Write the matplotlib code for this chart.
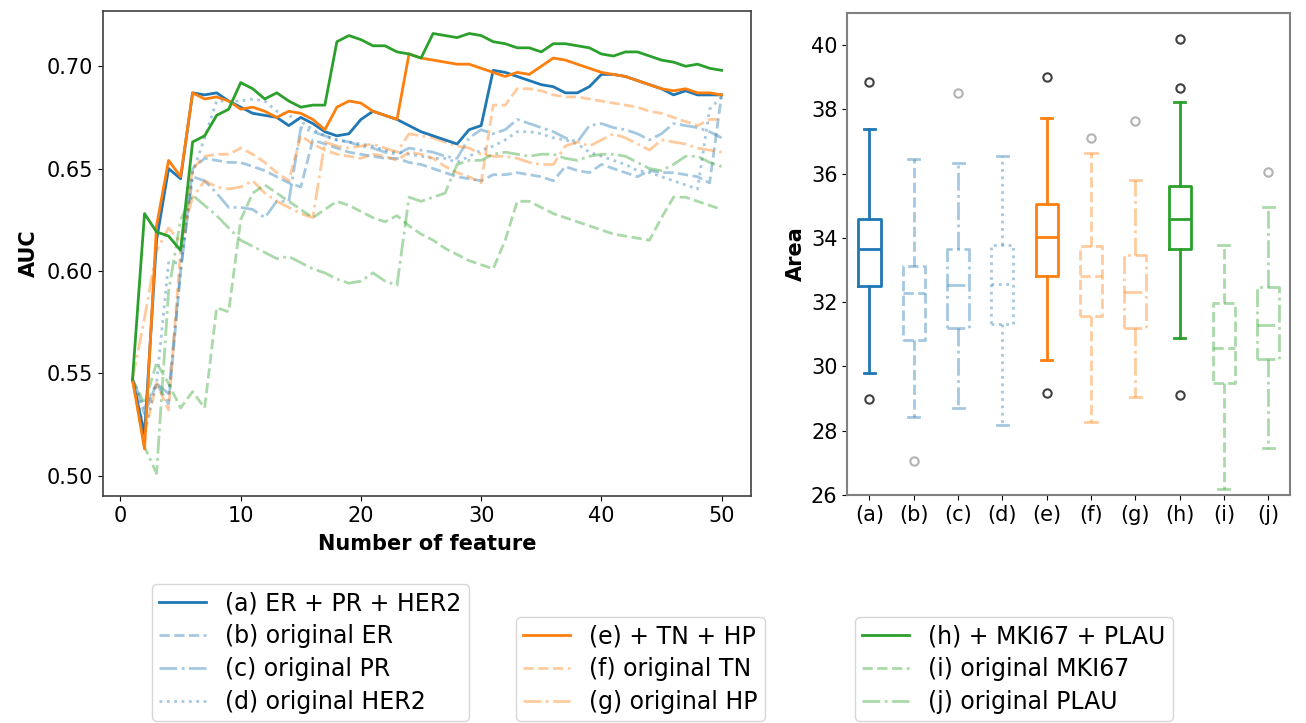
import matplotlib

matplotlib.use("Agg")
import matplotlib.pyplot as plt
from matplotlib.lines import Line2D

# AUC vs number of features (n = 1..50)
n_feature = list(range(1, 51))
auc_a = [0.547, 0.520, 0.615, 0.650, 0.645, 0.687, 0.686, 0.687, 0.683, 0.680,
         0.677, 0.676, 0.675, 0.671, 0.675, 0.672, 0.668, 0.666, 0.667, 0.674,
         0.678, 0.676, 0.674, 0.671, 0.668, 0.666, 0.664, 0.662, 0.669, 0.671,
         0.698, 0.697, 0.695, 0.693, 0.691, 0.690, 0.687, 0.687, 0.690, 0.696,
         0.696, 0.695, 0.693, 0.691, 0.689, 0.686, 0.688, 0.686, 0.686, 0.686]
auc_b = [0.547, 0.530, 0.545, 0.535, 0.600, 0.650, 0.655, 0.654, 0.653, 0.653,
         0.651, 0.649, 0.646, 0.643, 0.641, 0.664, 0.662, 0.660, 0.658, 0.657,
         0.656, 0.655, 0.655, 0.653, 0.652, 0.650, 0.648, 0.646, 0.645, 0.644,
         0.647, 0.647, 0.648, 0.647, 0.646, 0.644, 0.651, 0.649, 0.648, 0.652,
         0.650, 0.648, 0.646, 0.649, 0.648, 0.648, 0.647, 0.646, 0.643, 0.686]
auc_c = [0.547, 0.533, 0.545, 0.540, 0.600, 0.646, 0.644, 0.638, 0.631, 0.631,
         0.630, 0.626, 0.634, 0.634, 0.670, 0.668, 0.666, 0.664, 0.663, 0.661,
         0.660, 0.658, 0.657, 0.660, 0.659, 0.658, 0.656, 0.655, 0.665, 0.669,
         0.667, 0.669, 0.674, 0.672, 0.670, 0.668, 0.665, 0.663, 0.671, 0.672,
         0.670, 0.669, 0.667, 0.664, 0.667, 0.672, 0.671, 0.670, 0.668, 0.665]
auc_d = [0.547, 0.522, 0.545, 0.604, 0.604, 0.648, 0.665, 0.683, 0.683, 0.683,
         0.684, 0.683, 0.678, 0.676, 0.673, 0.669, 0.666, 0.664, 0.663, 0.662,
         0.661, 0.659, 0.658, 0.657, 0.656, 0.655, 0.655, 0.653, 0.656, 0.659,
         0.661, 0.664, 0.668, 0.668, 0.667, 0.665, 0.664, 0.662, 0.658, 0.656,
         0.654, 0.652, 0.649, 0.648, 0.646, 0.644, 0.642, 0.640, 0.679, 0.685]
auc_e = [0.547, 0.513, 0.622, 0.654, 0.646, 0.687, 0.684, 0.685, 0.683, 0.679,
         0.680, 0.678, 0.675, 0.678, 0.677, 0.674, 0.669, 0.680, 0.683, 0.682,
         0.678, 0.676, 0.674, 0.706, 0.704, 0.703, 0.702, 0.701, 0.701, 0.699,
         0.697, 0.695, 0.697, 0.696, 0.700, 0.704, 0.703, 0.701, 0.699, 0.697,
         0.696, 0.695, 0.693, 0.691, 0.689, 0.688, 0.689, 0.687, 0.687, 0.686]
auc_f = [0.547, 0.520, 0.545, 0.532, 0.610, 0.650, 0.656, 0.657, 0.657, 0.660,
         0.657, 0.653, 0.648, 0.644, 0.666, 0.662, 0.659, 0.657, 0.656, 0.655,
         0.657, 0.656, 0.654, 0.658, 0.657, 0.655, 0.651, 0.648, 0.646, 0.643,
         0.681, 0.681, 0.689, 0.689, 0.688, 0.686, 0.685, 0.685, 0.684, 0.683,
         0.682, 0.681, 0.680, 0.678, 0.677, 0.675, 0.673, 0.671, 0.674, 0.674]
auc_g = [0.547, 0.577, 0.610, 0.621, 0.614, 0.636, 0.644, 0.641, 0.640, 0.641,
         0.644, 0.638, 0.634, 0.631, 0.628, 0.626, 0.663, 0.661, 0.660, 0.661,
         0.662, 0.660, 0.658, 0.667, 0.666, 0.665, 0.663, 0.661, 0.660, 0.657,
         0.656, 0.656, 0.655, 0.653, 0.652, 0.652, 0.661, 0.663, 0.661, 0.664,
         0.667, 0.665, 0.662, 0.659, 0.664, 0.663, 0.662, 0.660, 0.659, 0.658]
auc_h = [0.547, 0.628, 0.619, 0.617, 0.610, 0.663, 0.666, 0.676, 0.679, 0.692,
         0.689, 0.684, 0.687, 0.683, 0.680, 0.681, 0.681, 0.712, 0.715, 0.713,
         0.710, 0.710, 0.707, 0.706, 0.704, 0.716, 0.715, 0.714, 0.716, 0.715,
         0.712, 0.711, 0.709, 0.709, 0.707, 0.711, 0.711, 0.710, 0.709, 0.706,
         0.705, 0.707, 0.707, 0.705, 0.703, 0.702, 0.700, 0.701, 0.699, 0.698]
auc_i = [0.547, 0.535, 0.555, 0.545, 0.533, 0.541, 0.533, 0.582, 0.580, 0.625,
         0.638, 0.642, 0.638, 0.634, 0.630, 0.626, 0.630, 0.634, 0.632, 0.629,
         0.626, 0.624, 0.627, 0.622, 0.618, 0.615, 0.611, 0.608, 0.605, 0.603,
         0.601, 0.615, 0.634, 0.634, 0.631, 0.628, 0.626, 0.624, 0.622, 0.620,
         0.618, 0.617, 0.616, 0.615, 0.626, 0.636, 0.636, 0.634, 0.632, 0.630]
auc_j = [0.547, 0.514, 0.501, 0.590, 0.625, 0.637, 0.632, 0.627, 0.621, 0.615,
         0.612, 0.609, 0.606, 0.607, 0.604, 0.601, 0.599, 0.596, 0.594, 0.595,
         0.599, 0.595, 0.593, 0.636, 0.634, 0.636, 0.638, 0.652, 0.654, 0.654,
         0.657, 0.658, 0.657, 0.656, 0.657, 0.657, 0.655, 0.654, 0.656, 0.657,
         0.657, 0.656, 0.653, 0.650, 0.649, 0.652, 0.656, 0.656, 0.653, 0.651]

labels = ["(a) ER + PR + HER2", "(b) original ER", "(c) original PR",
          "(d) original HER2", "(e) + TN + HP", "(f) original TN",
          "(g) original HP", "(h) + MKI67 + PLAU", "(i) original MKI67",
          "(j) original PLAU"]
box_ticks = ["(a)", "(b)", "(c)", "(d)", "(e)", "(f)", "(g)", "(h)", "(i)", "(j)"]

# box plot summary of Area
area_whislo = [29.79, 28.44, 28.70, 28.18, 30.20, 28.26, 29.06, 30.90, 26.18, 27.45]
area_q1 = [32.50, 30.82, 31.20, 31.32, 32.82, 31.58, 31.20, 33.65, 29.49, 30.22]
area_med = [33.64, 32.27, 32.53, 32.56, 34.04, 32.81, 32.32, 34.59, 30.56, 31.29]
area_q3 = [34.59, 33.13, 33.64, 33.78, 35.07, 33.75, 33.47, 35.62, 31.96, 32.48]
area_whishi = [37.38, 36.47, 36.32, 36.55, 37.74, 36.65, 35.80, 38.22, 33.78, 34.95]
area_fliers = [[38.86, 29.0], [27.06], [38.50], [], [39.01, 29.18], [37.12],
               [37.64], [40.19, 38.67, 29.11], [], [36.06]]

series = [auc_a, auc_b, auc_c, auc_d, auc_e, auc_f, auc_g, auc_h, auc_i, auc_j]
colors = ["tab:blue"] * 4 + ["tab:orange"] * 3 + ["tab:green"] * 3
styles = ["-", "--", "-.", ":", "-", "--", "-.", "-", "--", "-."]
alphas = [1, .4, .4, .4, 1, .4, .4, 1, .4, .4]

plt.rcParams["font.family"] = "DejaVu Sans"
fig = plt.figure(figsize=(13.06, 7.23), dpi=100)
ax1 = fig.add_axes([0.0789, 0.314, 0.4962, 0.6708])
ax2 = fig.add_axes([0.6488, 0.3154, 0.3392, 0.6667])

# faint lines first, solid ones on top
order = [1, 2, 3, 5, 6, 8, 9, 0, 4, 7]
for k in order:
    ax1.plot(n_feature, series[k], color=colors[k], ls=styles[k],
             alpha=alphas[k], lw=2.0)
ax1.set_ylim(0.490, 0.727)
ax1.set_xticks([0, 10, 20, 30, 40, 50])
ax1.set_yticks([0.50, 0.55, 0.60, 0.65, 0.70])
ax1.set_xlabel("Number of feature", fontsize=15, fontweight="bold", labelpad=6)
ax1.set_ylabel("AUC", fontsize=15, fontweight="bold", labelpad=6)
ax1.tick_params(labelsize=15)

for i in range(10):
    st = [{"whislo": area_whislo[i], "q1": area_q1[i], "med": area_med[i],
           "q3": area_q3[i], "whishi": area_whishi[i], "fliers": area_fliers[i]}]
    c, ls, a = colors[i], styles[i], alphas[i]
    lp = dict(color=c, ls=ls, lw=2.0, alpha=a)
    ax2.bxp(st, positions=[i + 1], widths=0.5,
            boxprops=lp, whiskerprops=lp, capprops=dict(color=c, lw=2.0, alpha=a),
            medianprops=lp,
            flierprops=dict(marker="o", markerfacecolor="none",
                            markeredgecolor="0.25", markersize=6, alpha=a,
                            markeredgewidth=1.5))
ax2.set_xlim(0.5, 10.5)
ax2.set_ylim(26, 41)
ax2.set_yticks([26, 28, 30, 32, 34, 36, 38, 40])
ax2.set_xticks(range(1, 11))
ax2.set_xticklabels(box_ticks)
ax2.set_ylabel("Area", fontsize=15, fontweight="bold", labelpad=4)
ax2.tick_params(labelsize=15)
for sp in ax2.spines.values():
    sp.set_color("0.5")
    sp.set_linewidth(1.5)
for sp in ax1.spines.values():
    sp.set_color("0.25")
    sp.set_linewidth(1.2)

handles = [Line2D([], [], color=colors[k], ls=styles[k], alpha=alphas[k], lw=2.0)
           for k in range(10)]
groups = [(range(0, 4), (0.1164, 0.1923)), (range(4, 7), (0.3951, 0.1466)),
          (range(7, 10), (0.6547, 0.1466))]
for idx, anchor in groups:
    fig.legend([handles[k] for k in idx], [labels[k] for k in idx],
               loc="upper left", bbox_to_anchor=anchor, fontsize=17,
               handlelength=2.0, labelspacing=0.38, borderaxespad=0,
               borderpad=0.3, frameon=True)

fig.savefig("out.png", dpi=100)
